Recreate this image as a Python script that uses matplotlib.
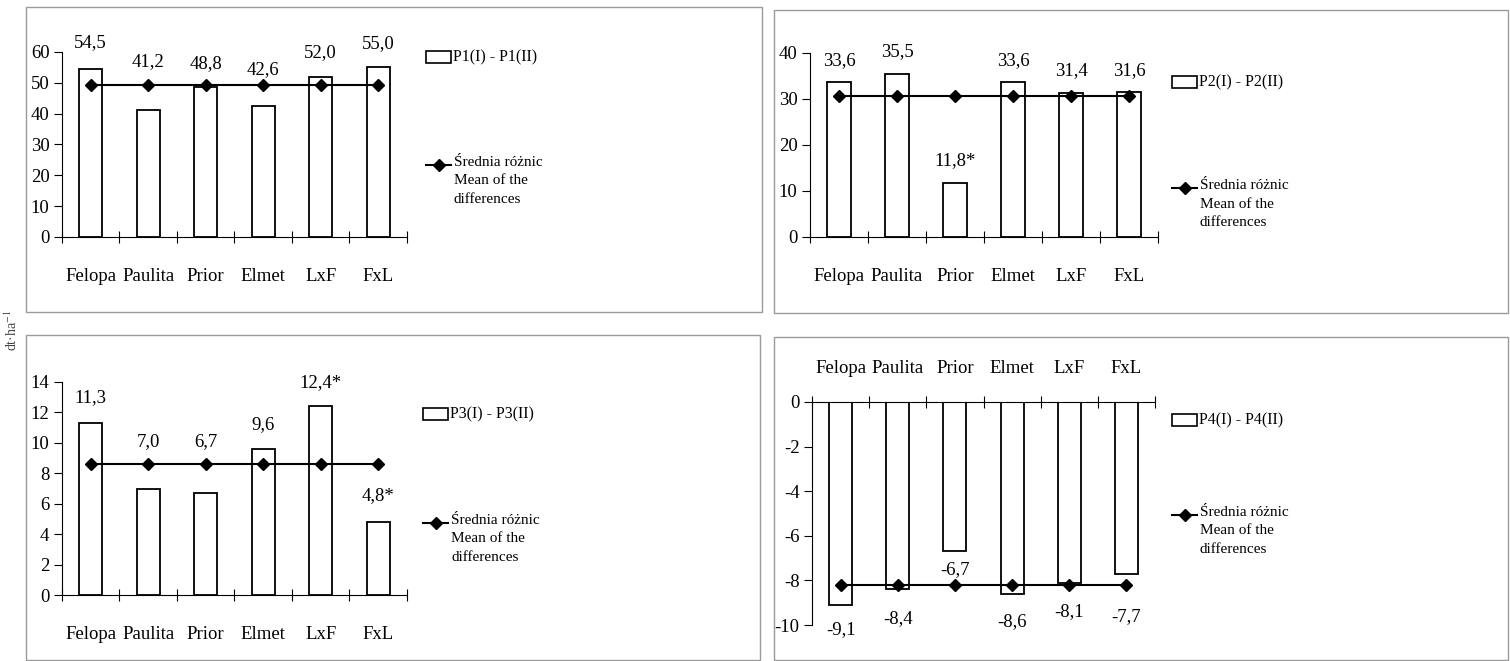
import matplotlib
matplotlib.use("Agg")
import matplotlib.pyplot as plt
from matplotlib.lines import Line2D
from matplotlib.patches import Rectangle

plt.rcParams["font.family"] = ["Liberation Serif", "DejaVu Serif"]
plt.rcParams["mathtext.fontset"] = "stix"
plt.rcParams["axes.unicode_minus"] = False

# ---------------- data ----------------
categories = ["Felopa", "Paulita", "Prior", "Elmet", "LxF", "FxL"]

p1_diff = [54.5, 41.2, 48.8, 42.6, 52.0, 55.0]
p1_mean = [49.4, 49.4, 49.4, 49.4, 49.4, 49.4]
p1_star = [False, False, False, False, False, False]

p2_diff = [33.6, 35.5, 11.8, 33.6, 31.4, 31.6]
p2_mean = [30.6, 30.6, 30.6, 30.6, 30.6, 30.6]
p2_star = [False, False, True, False, False, False]

p3_diff = [11.3, 7.0, 6.7, 9.6, 12.4, 4.8]
p3_mean = [8.6, 8.6, 8.6, 8.6, 8.6, 8.6]
p3_star = [False, False, False, False, True, True]

p4_diff = [-9.1, -8.4, -6.7, -8.6, -8.1, -7.7]
p4_mean = [-8.2, -8.2, -8.2, -8.2, -8.2, -8.2]
p4_star = [False, False, False, False, False, False]

series_names = ["P1(I) - P1(II)", "P2(I) - P2(II)", "P3(I) - P3(II)", "P4(I) - P4(II)"]
mean_name = "Średnia różnic\nMean of the\ndifferences"
y_ticks = [[0, 10, 20, 30, 40, 50, 60], [0, 10, 20, 30, 40],
           [0, 2, 4, 6, 8, 10, 12, 14], [-10, -8, -6, -4, -2, 0]]
unit_label = "dt·ha$^{-1}$"

# ---------------- layout (pixels) ----------------
W, H = 1510, 661
fig = plt.figure(figsize=(W / 100, H / 100), dpi=100)


def fbox(x0, y0, x1, y1):
    return [x0 / W, (H - y1) / H, (x1 - x0) / W, (y1 - y0) / H]


def fx(x):
    return x / W


def fy(y):
    return (H - y) / H


panels = [
    dict(diff=p1_diff, mean=p1_mean, star=p1_star, name=series_names[0], ticks=y_ticks[0],
         box=(62, 52, 407, 237), ylim=(0, 60), off=[26, 48, 23, 36, 24, 24], top=False,
         leg=(426, 57, 165), frame=(26, 7, 762, 312)),
    dict(diff=p2_diff, mean=p2_mean, star=p2_star, name=series_names[1], ticks=y_ticks[1],
         box=(810, 53, 1158, 237), ylim=(0, 40), off=[22, 22, 22, 22, 22, 21], top=False,
         leg=(1172, 82, 188), frame=(774, 10, 1508, 313)),
    dict(diff=p3_diff, mean=p3_mean, star=p3_star, name=series_names[2], ticks=y_ticks[2],
         box=(62, 382, 407, 595), ylim=(0, 14), off=[25, 47, 51, 24, 24, 26], top=False,
         leg=(423, 414, 523), frame=(26, 335, 760, 660)),
    dict(diff=p4_diff, mean=p4_mean, star=p4_star, name=series_names[3], ticks=y_ticks[3],
         box=(812, 402, 1155, 625), ylim=(-10, 0), off=[-25, -29, -18, -28, -29, -43], top=True,
         leg=(1172, 420, 515), frame=(774, 337, 1508, 660)),
]

FS = 13.5
x = list(range(len(categories)))

for p in panels:
    ax = fig.add_axes(fbox(*p["box"]))
    ax.set_facecolor("none")
    ax.bar(x, p["diff"], width=0.4, color="white", edgecolor="black", linewidth=1.3, zorder=2)
    ax.plot(x, p["mean"], color="black", linewidth=1.5, marker="D", markersize=6.5, zorder=3)
    ax.set_xlim(-0.5, len(categories) - 0.5)
    ax.set_ylim(*p["ylim"])
    ax.set_yticks(p["ticks"])
    ax.tick_params(axis="y", direction="out", length=6, width=0.8, pad=3, labelsize=FS)
    ax.set_xticks(x)
    ax.set_xticklabels(categories, fontsize=FS)
    ax.set_xticks([i - 0.5 for i in range(len(categories) + 1)], minor=True)
    ax.spines["right"].set_visible(False)
    ax.spines["left"].set_linewidth(0.8)
    if p["top"]:
        ax.spines["bottom"].set_visible(False)
        ax.spines["top"].set_linewidth(0.8)
        ax.xaxis.set_ticks_position("top")
        ax.xaxis.set_label_position("top")
        ax.tick_params(axis="x", which="major", length=0, pad=18, top=True, bottom=False)
        ax.tick_params(axis="x", which="minor", direction="inout", length=8, width=0.8,
                       top=True, bottom=False)
    else:
        ax.spines["top"].set_visible(False)
        ax.spines["bottom"].set_linewidth(0.8)
        ax.tick_params(axis="x", which="major", length=0, pad=22)
        ax.tick_params(axis="x", which="minor", direction="inout", length=8, width=0.8)
    for i, (v, s) in enumerate(zip(p["diff"], p["star"])):
        txt = f"{v:.1f}".replace(".", ",") + ("*" if s else "")
        ax.annotate(txt, (i, v), xytext=(0, p["off"][i]), textcoords="offset pixels",
                    ha="center", va="center", fontsize=FS, zorder=4)

    # legend (manual, Excel-like)
    lx, ry, ly = p["leg"]
    fig.add_artist(Rectangle((fx(lx), fy(ry + 6)), 25 / W, 12 / H, transform=fig.transFigure,
                             facecolor="white", edgecolor="black", linewidth=1.2))
    fig.text(fx(lx + 27), fy(ry), p["name"], ha="left", va="center", fontsize=11.5)
    fig.add_artist(Line2D([fx(lx), fx(lx + 25)], [fy(ly), fy(ly)], transform=fig.transFigure,
                          color="black", linewidth=1.5))
    fig.add_artist(Line2D([fx(lx + 12.5)], [fy(ly)], transform=fig.transFigure, color="black",
                          marker="D", markersize=6.5, linestyle="none"))
    fig.text(fx(lx + 28), fy(ly - 9), mean_name, ha="left", va="top", fontsize=11,
             linespacing=1.55)

    # scanned panel frame
    x0, y0, x1, y1 = p["frame"]
    fig.add_artist(Rectangle((fx(x0), fy(y1)), (x1 - x0) / W, (y1 - y0) / H,
                             transform=fig.transFigure, fill=False, edgecolor="#9a9a9a",
                             linewidth=1.0))

fig.text(fx(12), fy(330), unit_label, rotation=90, ha="center", va="center", fontsize=10,
         color="#444444")

fig.savefig("out.png", dpi=100, facecolor="white")
